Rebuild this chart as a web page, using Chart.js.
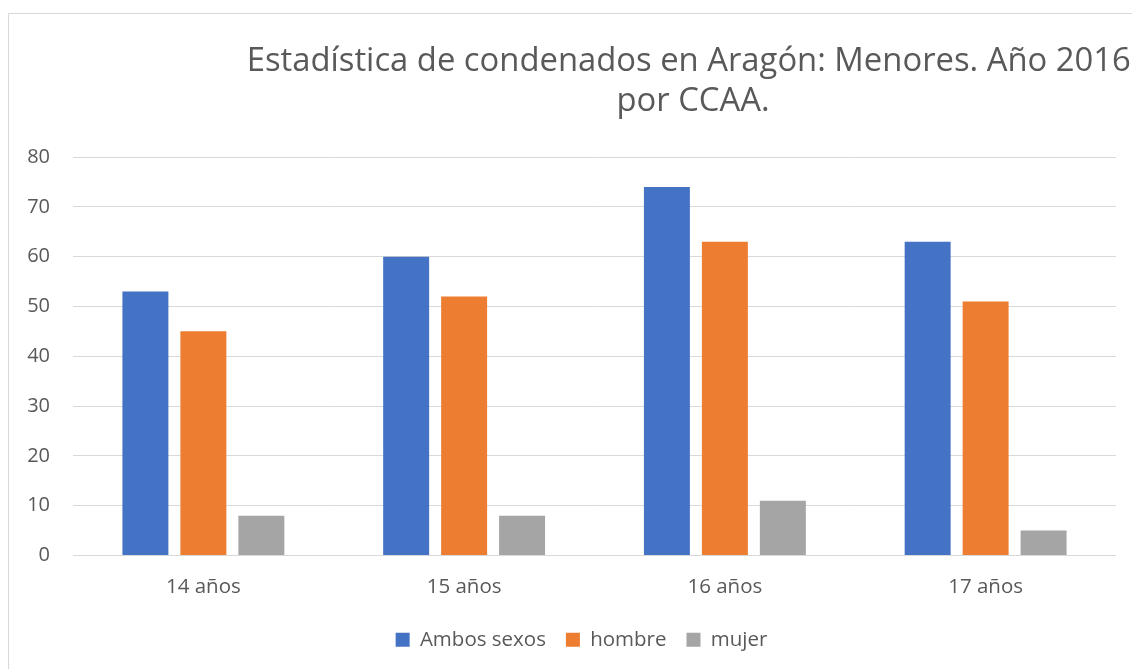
<!DOCTYPE html>
<html>
<head>
<meta charset="utf-8">
<script src="https://cdn.jsdelivr.net/npm/chart.js@4"></script>
<style>
  html, body { margin: 0; padding: 0; background: #fff; overflow: hidden; width: 1132px; height: 669px; }
  #box { position: absolute; left: 8px; top: 13px; width: 1368px; height: 700px; border: 1px solid #d9d9d9; background: #fff; }
  #wrap { position: absolute; left: 0; top: 0; width: 1368px; height: 646px; }
</style>
</head>
<body>
<div id="box"><div id="wrap"><canvas id="chart"></canvas></div></div>
<script>
// datos del gráfico
const categorias = ["14 años", "15 años", "16 años", "17 años"];
const ambosSexos = [53, 60, 74, 63];
const hombre = [45, 52, 63, 51];
const mujer = [8, 8, 11, 5];
const titulo = ["Estadística de condenados en Aragón: Menores. Año 2016,", "por CCAA."];

const gris = "#595959";
Chart.defaults.font.family = "'Open Sans', 'Noto Sans', sans-serif";
Chart.defaults.color = gris;

// la leyenda de Excel queda un poco a la izquierda del centro del área de trazado
const moverLeyenda = {
    id: "moverLeyenda",
    afterLayout(chart) {
        chart.legend.left -= 13;
        chart.legend.right -= 13;
    }
};

const ctx = document.getElementById("chart").getContext("2d");
const chart = new Chart(ctx, {
    type: "bar",
    data: {
        labels: categorias,
        datasets: [
            { label: "Ambos sexos", data: ambosSexos, backgroundColor: "#4472C4" },
            { label: "hombre", data: hombre, backgroundColor: "#ED7D31" },
            { label: "mujer", data: mujer, backgroundColor: "#A5A5A5" }
        ]
    },
    plugins: [moverLeyenda],
    options: {
        responsive: true,
        maintainAspectRatio: false,
        animation: false,
        categoryPercentage: 0.667,
        barPercentage: 0.793,
        layout: { padding: 0 },
        plugins: {
            title: {
                display: true,
                text: titulo,
                color: gris,
                font: { size: 32.8, weight: "normal", lineHeight: 1.22 },
                padding: { top: 28, bottom: 35 }
            },
            legend: {
                position: "bottom",
                fullSize: false,
                labels: {
                    boxWidth: 14,
                    boxHeight: 14,
                    padding: 20,
                    color: gris,
                    font: { size: 20.5 }
                }
            },
            tooltip: { enabled: false }
        },
        scales: {
            x: {
                grid: { display: false, drawTicks: false },
                border: { display: false },
                ticks: { padding: 19, font: { size: 20.5 }, color: gris },
                afterFit: s => { s.height = 54; }
            },
            y: {
                min: 0,
                max: 80,
                ticks: { stepSize: 10, padding: 23, font: { size: 20 }, color: gris },
                grid: { color: "#d9d9d9", lineWidth: 1, drawTicks: false },
                border: { display: false },
                afterFit: s => { s.width = 64; }
            },
            // eje vacío a la derecha: el gráfico original era más ancho
            derecha: {
                type: "linear",
                position: "right",
                ticks: { display: false },
                grid: { display: false },
                border: { display: false },
                afterFit: s => { s.width = 261; }
            }
        }
    }
});
</script>
</body>
</html>
